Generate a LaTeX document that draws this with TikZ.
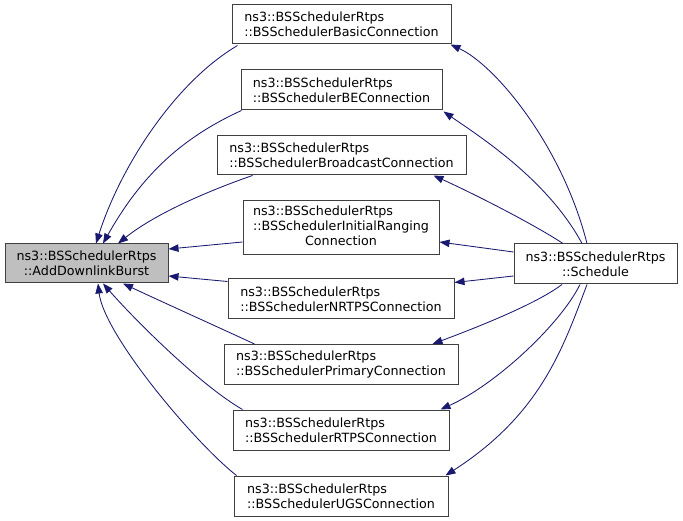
\documentclass[tikz,border=0pt]{standalone}
\usepackage{fontspec}
\setmainfont{DejaVu Sans}
\usepackage{xcolor}
\usetikzlibrary{arrows.meta,positioning,calc}
\definecolor{edgeblue}{HTML}{191970}
\definecolor{boxgray}{HTML}{BFBFBF}

\begin{document}
\begin{tikzpicture}[x=1pt, y=-1pt]
    % Styles
    \tikzstyle{func} = [draw=black!75, line width=1pt, rectangle, fill=white, minimum height=40pt, inner sep=0pt, align=left, font=\fontsize{12.7}{15}\selectfont]
    \tikzstyle{calledge} = [draw=edgeblue, line width=0.85pt, -{Triangle[length=10pt, width=7.5pt]}]

    \useasboundingbox (0,0) rectangle (683,521);

    % Called function
    \node [func, fill=boxgray, align=center, minimum width=163pt, minimum height=39pt] (Add) at (86.5,263.5) {ns3::BSSchedulerRtps\\::AddDownlinkBurst};

    % Connections
    \node [func, minimum width=219pt, minimum height=39pt] (Basic) at (341.5,24.5) {ns3::BSSchedulerRtps\\::BSSchedulerBasicConnection};
    \node [func, minimum width=201pt] (BE) at (341.5,90) {ns3::BSSchedulerRtps\\::BSSchedulerBEConnection};
    \node [func, minimum width=249pt, minimum height=39pt] (Bcast) at (341.5,155.5) {ns3::BSSchedulerRtps\\::BSSchedulerBroadcastConnection};
    \node [func, minimum width=196pt, minimum height=54pt] (Init) at (341,228) {\begin{tabular}{@{}l@{}}ns3::BSSchedulerRtps\\::BSSchedulerInitialRanging\\\multicolumn{1}{@{}c@{}}{Connection}\end{tabular}};
    \node [func, minimum width=226pt] (NRTPS) at (341,299) {ns3::BSSchedulerRtps\\::BSSchedulerNRTPSConnection};
    \node [func, minimum width=234pt] (Prim) at (341,364.5) {ns3::BSSchedulerRtps\\::BSSchedulerPrimaryConnection};
    \node [func, minimum width=216pt] (RTPS) at (341,430) {ns3::BSSchedulerRtps\\::BSSchedulerRTPSConnection};
    \node [func, minimum width=214pt] (UGS) at (341,496) {ns3::BSSchedulerRtps\\::BSSchedulerUGSConnection};

    % Caller
    \node [func, align=center, minimum width=163pt] (Sched) at (595.5,264) {ns3::BSSchedulerRtps\\::Schedule};

    % Edges
    % Connections - AddDownlinkBurst
    \draw [calledge] ([shift={(6,1)}]Basic.south west) .. controls (174,83) and (120,168) .. ([shift={(9.5,0)}]Add.north);
    \draw [calledge] ([shift={(1,0)}]BE.south west) .. controls (179,139) and (140,178) .. ([shift={(16.5,0)}]Add.north);
    \draw [calledge] ([shift={(36,0)}]Bcast.south west) .. controls (222,186) and (160,210) .. ([shift={(31.5,0)}]Add.north);
    \draw [calledge] ([shift={(0,14)}]Init.west) -- ([shift={(0,-14.5)}]Add.east);
    \draw [calledge] ([shift={(0,3)}]NRTPS.north west) -- ([shift={(0,12.5)}]Add.east);
    \draw [calledge] ([shift={(31,0)}]Prim.north west) .. controls (220,328) and (158,300) .. ([shift={(36.5,0)}]Add.south);
    \draw [calledge] ([shift={(10,0)}]RTPS.north west) .. controls (200,385) and (135,320) .. ([shift={(16.5,0)}]Add.south);
    \draw [calledge] ([shift={(3,0)}]UGS.north west) .. controls (195,443) and (104,335) .. ([shift={(11.5,0)}]Add.south);

    % Schedule - Connections
    \draw [calledge] ([shift={(-8.5,0)}]Sched.north) .. controls (562,145) and (495,65) .. ([shift={(-1,0)}]Basic.south east);
    \draw [calledge] ([shift={(-13.5,0)}]Sched.north) .. controls (548,180) and (479,136) .. ([shift={(1,1)}]BE.south east);
    \draw [calledge] ([shift={(-32.5,0)}]Sched.north) .. controls (530,222) and (470,192) .. ([shift={(-33,0)}]Bcast.south east);
    \draw [calledge] ([shift={(0,-12)}]Sched.west) -- ([shift={(0,14)}]Init.east);
    \draw [calledge] ([shift={(0,12)}]Sched.west) -- ([shift={(0,4)}]NRTPS.north east);
    \draw [calledge] ([shift={(-33.5,0)}]Sched.south) .. controls (535,305) and (470,330) .. ([shift={(-26,0)}]Prim.north east);
    \draw [calledge] ([shift={(-15.5,0)}]Sched.south) .. controls (560,325) and (495,385) .. ([shift={(-9,0)}]RTPS.north east);
    \draw [calledge] ([shift={(-8.5,0)}]Sched.south) .. controls (563,348) and (541,414) .. ([shift={(-3,0)}]UGS.north east);

\end{tikzpicture}
\end{document}
